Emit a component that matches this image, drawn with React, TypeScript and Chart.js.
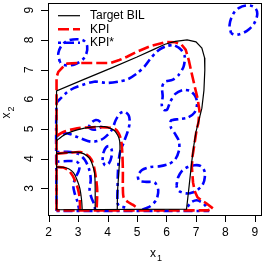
import React, { useEffect, useRef } from "react";
import { Chart, registerables } from "chart.js";

Chart.register(...registerables);

type P = [number, number];

// ---- Target BIL (black solid) contours ----
const bilOuter: P[] = [[2.27,2.28],[2.27,6.28],[3.2,6.67],[4.1,7.04],[5.0,7.42],[5.57,7.68],[5.95,7.85],[6.3,7.95],[6.7,8.0],[7.0,7.93],[7.2,7.72],[7.29,7.4],[7.3,6.98],[7.27,6.3],[7.2,5.7],[7.1,5.3],[7.0,4.9],[6.92,4.4],[6.85,3.84],[6.77,3.1],[6.68,2.3],[2.27,2.28]];
const bilMid: P[] = [[2.27,4.6],[2.45,4.75],[2.65,4.86],[3.0,4.98],[3.44,5.06],[3.9,5.08],[4.1,5.02],[4.24,4.94],[4.35,4.78],[4.41,4.6],[4.42,4.2],[4.38,3.5],[4.34,2.9],[4.33,2.29]];
const bilInner1: P[] = [[2.27,4.17],[2.6,4.2],[2.97,4.22],[3.2,4.16],[3.38,4.02],[3.48,3.82],[3.56,3.52],[3.58,3.0],[3.58,2.29]];
const bilInner2: P[] = [[2.27,3.72],[2.5,3.71],[2.68,3.66],[2.85,3.52],[2.96,3.3],[3.06,3.0],[3.12,2.6],[3.14,2.29]];

// ---- KPI (red dashed) contours ----
const kpiOuter: P[] = [[2.27,2.26],[2.27,6.75],[2.33,6.92],[2.46,7.06],[2.63,7.2],[3.0,7.22],[3.54,7.22],[4.1,7.22],[4.4,7.32],[4.66,7.43],[5.0,7.6],[5.45,7.79],[6.0,7.93],[6.3,7.92],[6.5,7.85],[6.65,7.67],[6.76,7.3],[6.86,6.85],[6.96,6.42],[7.06,6.0],[7.12,5.6],[7.08,5.2],[7.02,4.96],[6.95,4.5],[6.88,4.06],[6.86,3.72],[6.9,3.2],[6.96,2.9],[7.05,2.7],[7.2,2.58],[7.35,2.5],[7.58,2.32],[7.4,2.26],[2.27,2.26]];
const kpiMid: P[] = [[2.27,4.76],[2.5,4.9],[2.97,5.02],[3.5,5.06],[4.0,5.05],[4.25,5.0],[4.38,4.85],[4.46,4.62],[4.5,4.2],[4.52,3.6],[4.52,3.0],[4.55,2.68],[4.68,2.55],[4.85,2.45],[5.0,2.35]];
const kpiInner1: P[] = [[2.27,4.17],[2.7,4.2],[3.08,4.22],[3.3,4.13],[3.45,3.98],[3.55,3.68],[3.62,3.25],[3.65,2.9],[3.63,2.29]];
const kpiInner2: P[] = [[2.27,3.72],[2.5,3.7],[2.68,3.6],[2.82,3.42],[2.9,3.25],[2.99,3.0],[3.05,2.7],[3.07,2.29]];

// ---- KPI* (blue dot-dash) contours ----
const kpisOuter: P[] = [[2.27,2.24],[2.27,5.86],[2.4,6.02],[2.55,6.17],[2.75,6.32],[2.97,6.42],[3.54,6.59],[3.99,6.55],[4.4,6.6],[4.7,6.68],[5.0,6.87],[5.25,7.1],[5.45,7.36],[5.62,7.55],[5.77,7.68],[6.0,7.79],[6.25,7.82],[6.5,7.66],[6.62,7.43],[6.58,7.1],[6.4,6.8],[6.2,6.65],[5.93,6.58],[5.85,6.4],[5.87,6.1],[5.84,5.8],[5.9,5.64],[6.02,5.65],[6.12,5.9],[6.3,6.18],[6.55,6.31],[6.8,6.28],[6.98,6.1],[7.04,5.85],[6.95,5.55],[6.72,5.38],[6.42,5.33],[6.15,5.28],[6.15,5.05],[6.28,4.85],[6.42,4.6],[6.43,4.3],[6.3,3.98],[6.08,3.82],[5.75,3.74],[5.45,3.72],[5.17,3.62],[5.03,3.42],[5.08,3.25],[5.32,3.22],[5.6,3.2],[5.72,2.94],[5.66,2.62],[5.45,2.4],[5.15,2.27]];
const kpisTopLeft: P[] = [[2.38,7.26],[2.33,7.55],[2.45,7.82],[2.65,7.97],[2.95,8.02],[3.2,7.97],[3.31,7.78],[3.27,7.5],[3.14,7.32],[2.9,7.18],[2.62,7.14],[2.45,7.18],[2.38,7.26]];
const kpisTopRight: P[] = [[8.19,8.22],[8.14,8.5],[8.25,8.85],[8.45,9.07],[8.76,9.16],[9.0,9.08],[9.08,8.88],[8.98,8.56],[8.8,8.36],[8.59,8.23],[8.35,8.17],[8.19,8.22]];
const kpisMid: P[] = [[2.27,4.75],[2.43,4.84],[2.65,4.85],[2.9,4.76],[3.1,4.68],[3.44,4.57],[3.75,4.62],[3.95,4.75],[4.15,4.98],[4.28,5.3],[4.42,5.52],[4.58,5.58],[4.72,5.45],[4.75,5.2],[4.68,4.9],[4.55,4.55],[4.42,4.2],[4.36,3.7],[4.34,3.0],[4.34,2.5],[4.4,2.4],[4.6,2.36]];
const kpisLoopA: P[] = [[3.35,5.05],[3.44,5.2],[3.6,5.3],[3.75,5.24],[3.8,5.1],[3.68,5.0],[3.48,4.98],[3.35,5.05]];
const kpisLoopB: P[] = [[3.83,3.95],[3.86,4.2],[3.95,4.38],[4.05,4.42],[4.14,4.3],[4.13,4.05],[4.05,3.85],[3.92,3.77],[3.83,3.95]];
const kpisInner1: P[] = [[2.27,4.22],[2.65,4.23],[2.99,4.17],[3.22,3.97],[3.37,3.66],[3.43,3.3],[3.39,2.98],[3.45,2.7],[3.55,2.45],[3.58,2.27]];
const kpisInner2: P[] = [[2.27,3.9],[2.65,3.92],[2.95,3.9],[3.05,3.78],[3.02,3.58],[2.92,3.38],[2.84,3.1],[2.88,2.85],[2.98,2.55],[3.04,2.27]];
const kpisBlob: P[] = [[6.34,3.11],[6.4,3.38],[6.52,3.58],[6.72,3.72],[6.95,3.78],[7.15,3.76],[7.28,3.6],[7.3,3.38],[7.24,3.15],[7.08,2.97],[6.88,2.86],[6.68,2.83],[6.48,2.88],[6.37,2.98],[6.34,3.11]];
const kpisBlobLow: P[] = [[6.72,2.38],[6.82,2.52],[7.02,2.6],[7.2,2.53],[7.32,2.42],[7.41,2.27]];
const kpisBottom: P[] = [[2.27,2.24],[7.45,2.24]];

const xTicks = [2, 3, 4, 5, 6, 7, 8, 9];
const yTicks = [3, 4, 5, 6, 7, 8, 9];
const legendLabels = ["Target BIL", "KPI", "KPI*"];
const legendColors = ["#000000", "#FF0000", "#0000FF"];

const RED_DASH = [11, 4];
const BLUE_DASH = [3, 4, 9, 4];
const legendDashes = [[], RED_DASH, BLUE_DASH];
const legendWidths = [1.2, 2.6, 2.6];

const FONT = '"Liberation Sans", Arial, Helvetica, sans-serif';

function ds(points: P[], kind: number, tension = 0) {
  return {
    data: points.map(([x, y]) => ({ x, y })),
    showLine: true,
    pointRadius: 0,
    borderColor: legendColors[kind],
    borderWidth: legendWidths[kind],
    borderDash: legendDashes[kind],
    borderCapStyle: "butt" as const,
    fill: false,
    tension,
  };
}

const rAxes = {
  id: "rAxes",
  afterDraw(chart: any) {
    const { ctx, chartArea, scales } = chart;
    const { left, right, top, bottom } = chartArea;
    const xs = scales.x;
    const ys = scales.y;
    ctx.save();
    ctx.setLineDash([]);
    ctx.strokeStyle = "#000";
    ctx.lineWidth = 1;
    ctx.strokeRect(left + 0.5, top + 0.5, right - left - 1, bottom - top - 1);
    ctx.fillStyle = "#000";
    ctx.font = `12px ${FONT}`;
    ctx.textAlign = "center";
    ctx.textBaseline = "middle";
    // x axis
    ctx.beginPath();
    xTicks.forEach((v) => {
      const px = Math.round(xs.getPixelForValue(v)) + 0.5;
      ctx.moveTo(px, bottom);
      ctx.lineTo(px, bottom + 6);
    });
    ctx.stroke();
    xTicks.forEach((v) => {
      ctx.fillText(String(v), xs.getPixelForValue(v), 233);
    });
    // y axis
    ctx.beginPath();
    yTicks.forEach((v) => {
      const py = Math.round(ys.getPixelForValue(v)) + 0.5;
      ctx.moveTo(left, py);
      ctx.lineTo(left - 7, py);
    });
    ctx.stroke();
    yTicks.forEach((v) => {
      ctx.save();
      ctx.translate(29.5, ys.getPixelForValue(v));
      ctx.rotate(-Math.PI / 2);
      ctx.fillText(String(v), 0, 0);
      ctx.restore();
    });
    // axis titles
    ctx.textBaseline = "alphabetic";
    ctx.textAlign = "center";
    const cx = (left + right) / 2;
    ctx.font = `12px ${FONT}`;
    ctx.fillText("x", cx - 2, 257);
    ctx.font = `9px ${FONT}`;
    ctx.fillText("1", cx + 4.5, 261);
    ctx.save();
    ctx.translate(10, (top + bottom) / 2 + 4);
    ctx.rotate(-Math.PI / 2);
    ctx.font = `12px ${FONT}`;
    ctx.fillText("x", -2, 0);
    ctx.font = `9px ${FONT}`;
    ctx.fillText("2", 4.5, 4);
    ctx.restore();
    // legend
    const rows = [15.7, 29.3, 42.7];
    ctx.font = `12px ${FONT}`;
    ctx.textAlign = "left";
    ctx.textBaseline = "middle";
    legendLabels.forEach((lab, i) => {
      ctx.beginPath();
      ctx.strokeStyle = legendColors[i];
      ctx.lineWidth = legendWidths[i];
      ctx.setLineDash(legendDashes[i]);
      ctx.moveTo(58, rows[i]);
      ctx.lineTo(80, rows[i]);
      ctx.stroke();
      ctx.fillStyle = "#000";
      ctx.fillText(lab, 90, rows[i]);
    });
    ctx.restore();
  },
};

export default function App() {
  const ref = useRef<HTMLCanvasElement | null>(null);
  useEffect(() => {
    document.body.style.margin = "0";
    if (!ref.current) return;
    const chart = new Chart(ref.current, {
      type: "scatter",
      data: {
        datasets: [
          ds(bilOuter, 0),
          ds(bilMid, 0, 0.3),
          ds(bilInner1, 0, 0.3),
          ds(bilInner2, 0, 0.3),
          ds(kpiOuter, 1),
          ds(kpiMid, 1, 0.3),
          ds(kpiInner1, 1, 0.3),
          ds(kpiInner2, 1, 0.3),
          ds(kpisBottom, 2),
          ds(kpisOuter, 2, 0.25),
          ds(kpisTopLeft, 2, 0.35),
          ds(kpisTopRight, 2, 0.35),
          ds(kpisMid, 2, 0.3),
          ds(kpisLoopA, 2, 0.35),
          ds(kpisLoopB, 2, 0.35),
          ds(kpisInner1, 2, 0.3),
          ds(kpisInner2, 2, 0.3),
          ds(kpisBlob, 2, 0.35),
          ds(kpisBlobLow, 2, 0.3),
        ] as any,
      },
      options: {
        animation: false,
        responsive: false,
        layout: { padding: { left: 48, right: 4, top: 3, bottom: 50 } },
        plugins: { legend: { display: false }, tooltip: { enabled: false } },
        scales: {
          x: { type: "linear", min: 1.98, max: 9.24, display: false },
          y: { type: "linear", min: 2.07, max: 9.24, display: false },
        },
      },
      plugins: [rAxes],
    });
    return () => chart.destroy();
  }, []);
  return (
    <div style={{ position: "absolute", left: 0, top: 0, width: 266, height: 266, background: "#fff" }}>
      <canvas ref={ref} width={266} height={266} />
    </div>
  );
}
